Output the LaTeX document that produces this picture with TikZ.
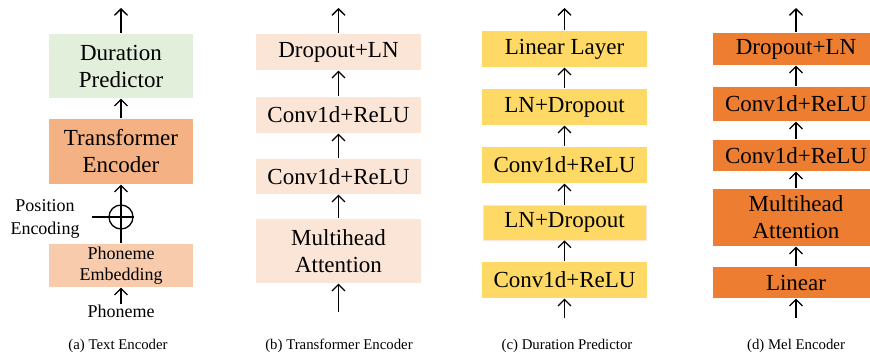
\documentclass[tikz,border=0pt]{standalone}
\usepackage{fontspec}
\setmainfont{Liberation Serif}
\usetikzlibrary{arrows.meta}
\definecolor{dpgreen}{HTML}{E2EFDA}
\definecolor{teorange}{HTML}{F4B183}
\definecolor{pepeach}{HTML}{F8CBAD}
\definecolor{tepale}{HTML}{FBE5D6}
\definecolor{dpyellow}{HTML}{FFD966}
\definecolor{meorange}{HTML}{ED7D31}

\begin{document}
\begin{tikzpicture}
[x=0.5pt,y=-0.5pt,line width=0.65pt,>={Straight Barb[length=3.2pt,width=6.5pt]},
 every node/.style={align=center,inner sep=0pt,font=\fontsize{11.5}{13.5}\selectfont},
 small/.style={font=\fontsize{9}{10.8}\selectfont},
 subcap/.style={font=\fontsize{7.4}{9}\selectfont}]
\useasboundingbox (0,0) rectangle (870,354);
% (a) text encoder
\node[fill=dpgreen,minimum width=72pt,minimum height=32pt] (a3) at (121,66) {Duration\\Predictor};
\node[fill=teorange,minimum width=72pt,minimum height=32.5pt] (a2) at (121,151.5) {Transformer\\Encoder};
\node[fill=pepeach,minimum width=72pt,minimum height=21.5pt,small] (a1) at (121,265.5) {Phoneme\\Embedding};
\node[draw,circle,minimum size=12pt] (add) at (121,217) {};
\node[small,font=\fontsize{9}{11.5}\selectfont] (pos) at (45,219) {Position\\Encoding};
\node[small] (ph) at (121,311) {Phoneme};
\coordinate (pl) at (92,217);
\coordinate (aout) at (121,8);
\node[subcap] (capa) at (118,346) {(a) Text Encoder};
% (b) transformer encoder
\node[fill=tepale,minimum width=82.5pt,minimum height=32pt] (b1) at (338.5,251) {Multihead\\Attention};
\node[fill=tepale,minimum width=82.5pt,minimum height=17.5pt] (b2) at (338.5,176.5) {Conv1d+ReLU};
\node[fill=tepale,minimum width=82.5pt,minimum height=18pt] (b3) at (338.5,115) {Conv1d+ReLU};
\node[fill=tepale,minimum width=82.5pt,minimum height=18pt] (b4) at (338.5,52) {Dropout+LN};
\coordinate (bin) at (338.5,312);
\coordinate (bout) at (338.5,8);
\node[subcap] (capb) at (339,346) {(b) Transformer Encoder};
% (c) duration predictor
\node[fill=dpyellow,minimum width=82.5pt,minimum height=18pt] (c1) at (564.5,280) {Conv1d+ReLU};
\node[fill=dpyellow,minimum width=81.5pt,minimum height=17.5pt,draw=tepale,line width=0.4pt] (c2) at (564.5,222.5) {LN+Dropout};
\node[fill=dpyellow,minimum width=82.5pt,minimum height=18pt] (c3) at (564.5,165) {Conv1d+ReLU};
\node[fill=dpyellow,minimum width=82.5pt,minimum height=18pt] (c4) at (564.5,107) {LN+Dropout};
\node[fill=dpyellow,minimum width=82.5pt,minimum height=18pt] (c5) at (564.5,49) {Linear Layer};
\coordinate (cin) at (564.5,318);
\coordinate (cout) at (564.5,8);
\node[subcap] (capc) at (567,346) {(c) Duration Predictor};
% (d) mel encoder
\node[fill=meorange,minimum width=83pt,minimum height=15.5pt] (d1) at (796,282.5) {Linear};
\node[fill=meorange,minimum width=83pt,minimum height=28.5pt] (d2) at (796,217.5) {Multihead\\Attention};
\node[fill=meorange,minimum width=83pt,minimum height=15.5pt] (d3) at (796,155.5) {Conv1d+ReLU};
\node[fill=meorange,minimum width=83pt,minimum height=17pt] (d4) at (796,104) {Conv1d+ReLU};
\node[fill=meorange,minimum width=83pt,minimum height=16pt] (d5) at (796,49) {Dropout+LN};
\coordinate (din) at (796,318);
\coordinate (dout) at (796,8);
\node[subcap] (capd) at (796,346) {(d) Mel Encoder};
% connectors
\draw (pl) -- (add.east);
\foreach \from/\to in {ph/a1,a1/a2,a2/a3,a3/aout,bin/b1,b1/b2,b2/b3,b3/b4,b4/bout,
  cin/c1,c1/c2,c2/c3,c3/c4,c4/c5,c5/cout,din/d1,d1/d2,d2/d3,d3/d4,d4/d5,d5/dout}
\draw[->] (\from) -- (\to);
\end{tikzpicture}
\end{document}
